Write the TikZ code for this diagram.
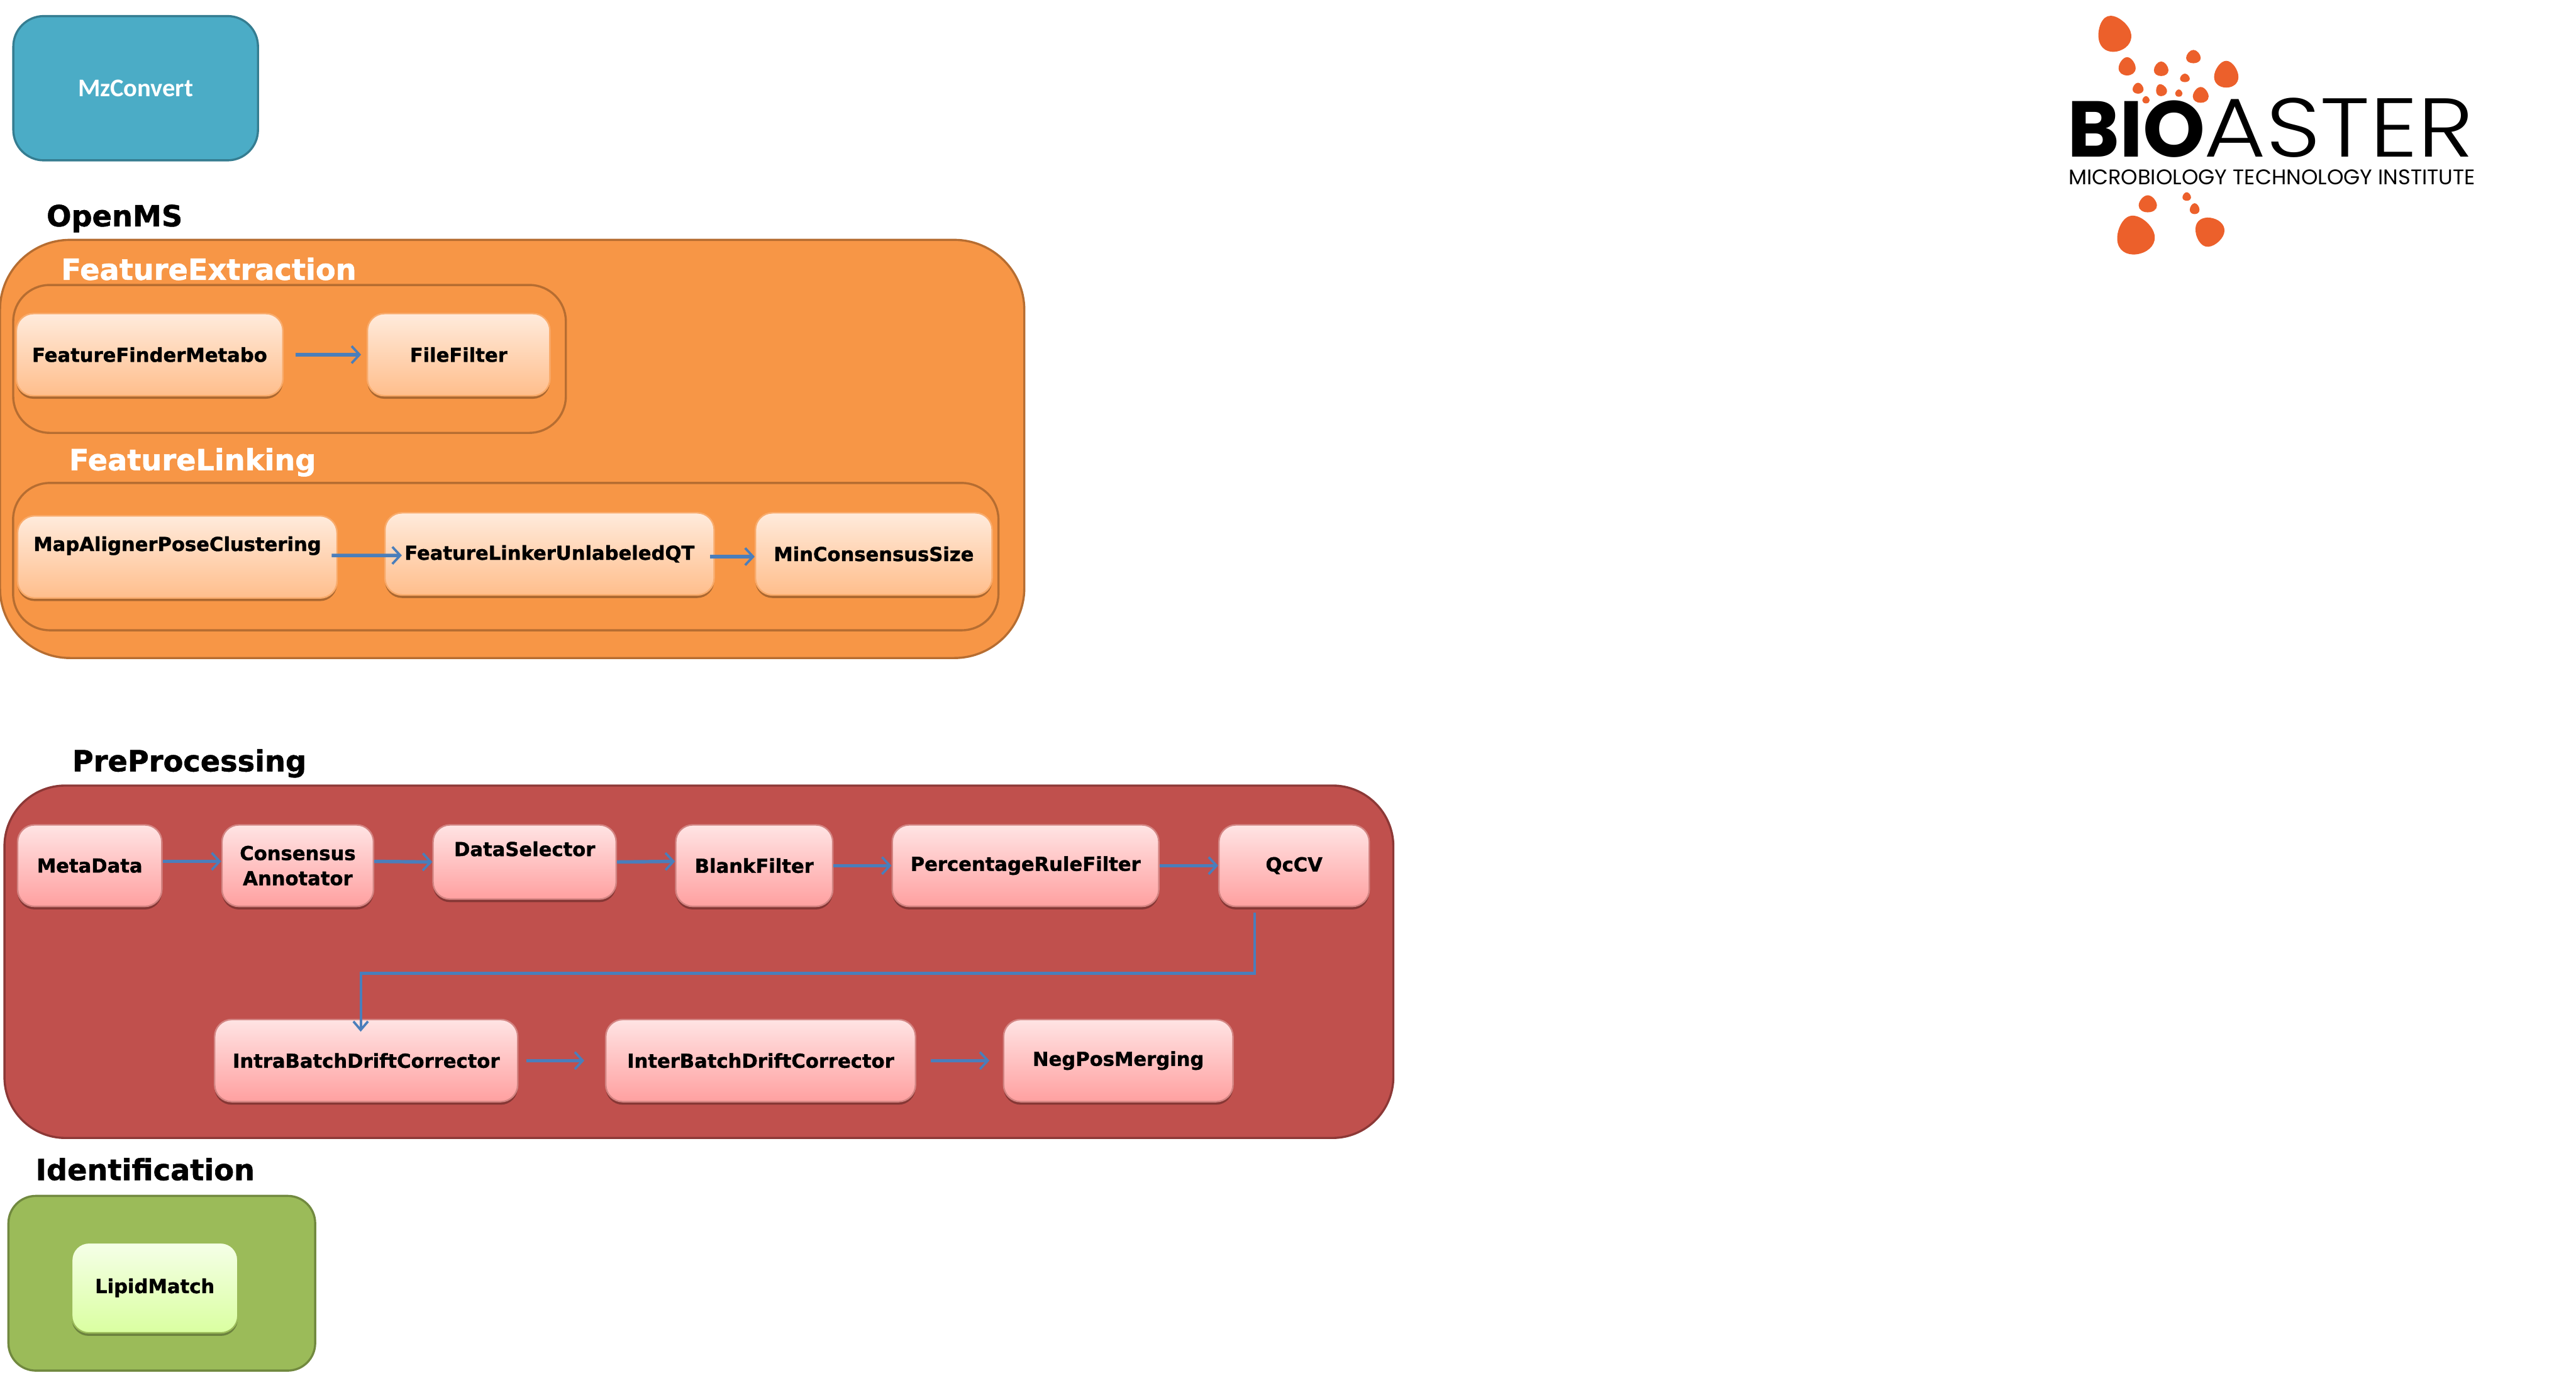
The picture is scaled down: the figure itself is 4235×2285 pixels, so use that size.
\documentclass[tikz,border=0pt]{standalone}
\usepackage{fontspec}
\usepackage{tikz}
\usetikzlibrary{arrows.meta, shadows}
\usepackage{xcolor}
\setmainfont{DejaVu Sans}
\newfontfamily\heavyfont[BoldFeatures={FakeBold=1.2}]{DejaVu Sans}
\newfontfamily\noticefont{Carlito}
\newfontfamily\logofont{Poppins}
\newfontfamily\logolight[FakeStretch=1.14]{Poppins Light}
\definecolor{toolBlue}{HTML}{4BACC6}
\definecolor{toolBlueEdge}{HTML}{357D91}
\definecolor{toolOrange}{HTML}{F79646}
\definecolor{toolOrangeEdge}{HTML}{B66D31}
\definecolor{toolRed}{HTML}{C0504D}
\definecolor{toolRedEdge}{HTML}{8C3836}
\definecolor{toolGreen}{HTML}{9BBB59}
\definecolor{toolGreenEdge}{HTML}{71893F}
\definecolor{flowBlue}{HTML}{4A7EBB}
\definecolor{logoOrange}{HTML}{EC602B}
\definecolor{orangeTop}{HTML}{FFEBDC}
\definecolor{orangeBottom}{HTML}{FFBE8C}
\definecolor{redTop}{HTML}{FFE4E4}
\definecolor{redBottom}{HTML}{FFA0A0}
\definecolor{greenTop}{HTML}{F5FFE8}
\definecolor{greenBottom}{HTML}{DAFFA0}
\tikzset{
    groupbox/.style={rectangle, rounded corners=#1, line width=1pt, inner sep=0pt},
    stepbox/.style 2 args={rectangle, rounded corners=0.28cm, line width=0.7pt, inner sep=0pt, align=center, font=\heavyfont\bfseries\fontsize{9}{11.7}\selectfont, fill=#1, path picture={\shade[top color=#1, bottom color=#2] (path picture bounding box.south west) rectangle (path picture bounding box.north east);}, drop shadow={shadow xshift=0pt, shadow yshift=-0.05cm, opacity=0.3, fill=black}},
    orangestep/.style={stepbox={orangeTop}{orangeBottom}, draw=toolOrange!80!white},
    redstep/.style={stepbox={redTop}{redBottom}, draw=toolRed!70!white},
    greenstep/.style={stepbox={greenTop}{greenBottom}, draw=toolGreen},
    grouptitle/.style={anchor=base west, inner sep=0pt, font=\heavyfont\bfseries\fontsize{13.6}{16}\selectfont},
    whitetitle/.style={grouptitle, text=white, font=\heavyfont\bfseries\fontsize{13.6}{16}\selectfont},
    flowarrow/.style={-{Straight Barb[length=0.13cm, width=0.28cm, line width=1.1pt]}, line width=1.6pt, draw=flowBlue},
    thinarrow/.style={-{Straight Barb[length=0.14cm, width=0.24cm, line width=1.1pt]}, line width=1.2pt, draw=flowBlue},
    logoblob/.style={fill=logoOrange, draw=none},
}

\begin{document}
\begin{tikzpicture}[x=0.01cm, y=-0.01cm]
    \useasboundingbox (0,0) rectangle (4235,2285);

    \node[groupbox=0.5cm, draw=toolBlueEdge, fill=toolBlue, minimum width=4.02cm, minimum height=2.37cm, text=white, font=\noticefont\bfseries\fontsize{11.9}{14}\selectfont] (mzconvert) at (223,145) {MzConvert};

    \node[grouptitle] (openmstitle) at (76,372) {OpenMS};
    \node[groupbox=1.15cm, draw=toolOrangeEdge, fill=toolOrange, minimum width=16.83cm, minimum height=6.87cm] (openms) at (842,738) {};
    \node[whitetitle] (extractiontitle) at (100,460) {FeatureExtraction};
    \node[groupbox=0.6cm, draw=toolOrangeEdge, fill=toolOrange, minimum width=9.08cm, minimum height=2.43cm] (extraction) at (476,590) {};
    \node[orangestep, minimum width=4.38cm, minimum height=1.35cm] (featurefinder) at (246,583) {FeatureFinderMetabo};
    \node[orangestep, minimum width=3cm, minimum height=1.35cm] (filefilter) at (754,583) {FileFilter};
    \node[whitetitle] (linkingtitle) at (113,773) {FeatureLinking};
    \node[groupbox=0.6cm, draw=toolOrangeEdge, fill=toolOrange, minimum width=16.19cm, minimum height=2.42cm] (linking) at (831.5,915) {};
    \node[orangestep, minimum width=5.25cm, minimum height=1.35cm] (mapaligner) at (291.5,915.5) {MapAlignerPoseClustering\\[-0.1cm]\strut};
    \node[orangestep, minimum width=5.41cm, minimum height=1.35cm] (featurelinker) at (903.5,910.5) {FeatureLinkerUnlabeledQT};
    \node[orangestep, minimum width=3.89cm, minimum height=1.35cm] (minconsensus) at (1436.5,910.5) {MinConsensusSize};

    \node[grouptitle] (preprocessingtitle) at (118,1268) {PreProcessing};
    \node[groupbox=1cm, draw=toolRedEdge, fill=toolRed, minimum width=22.82cm, minimum height=5.79cm] (preprocessing) at (1149,1581) {};
    \node[redstep, minimum width=2.37cm, minimum height=1.34cm] (metadata) at (147.5,1423) {MetaData};
    \node[redstep, minimum width=2.49cm, minimum height=1.34cm] (consensus) at (489.5,1423) {Consensus\\Annotator};
    \node[redstep, minimum width=3.01cm, minimum height=1.22cm] (dataselector) at (862.5,1417) {DataSelector\\[-0.1cm]\strut};
    \node[redstep, minimum width=2.58cm, minimum height=1.34cm] (blankfilter) at (1240,1423) {BlankFilter};
    \node[redstep, minimum width=4.38cm, minimum height=1.34cm] (percentage) at (1686,1423) {PercentageRuleFilter};
    \node[redstep, minimum width=2.47cm, minimum height=1.34cm] (qccv) at (2127.5,1423) {QcCV};
    \node[redstep, minimum width=4.98cm, minimum height=1.35cm] (intrabatch) at (602,1743.5) {IntraBatchDriftCorrector};
    \node[redstep, minimum width=5.09cm, minimum height=1.35cm] (interbatch) at (1250.5,1743.5) {InterBatchDriftCorrector};
    \node[redstep, minimum width=3.77cm, minimum height=1.35cm] (negpos) at (1838.5,1743.5) {NegPosMerging};

    \node[grouptitle] (identificationtitle) at (58,1940) {Identification};
    \node[groupbox=0.45cm, draw=toolGreenEdge, fill=toolGreen, minimum width=5.04cm, minimum height=2.87cm] (identification) at (266,2109.5) {};
    \node[greenstep, minimum width=2.73cm, minimum height=1.48cm] (lipidmatch) at (254.5,2117) {LipidMatch};

    \draw[flowarrow, shorten <=0.2cm, shorten >=0.09cm] (featurefinder) -- (filefilter);
    \draw[flowarrow, shorten <=-0.1cm, shorten >=-0.29cm] ([yshift=0.025cm]mapaligner.east) -- ([yshift=-0.025cm]featurelinker.west);
    \draw[flowarrow, shorten <=-0.08cm] ([yshift=-0.045cm]featurelinker.east) -- ([yshift=-0.045cm]minconsensus.west);
    \draw[flowarrow] ([yshift=0.07cm]metadata.east) -- ([yshift=0.07cm]consensus.west);
    \draw[flowarrow] ([yshift=0.07cm]consensus.east) -- (dataselector.west);
    \draw[flowarrow] (dataselector.east) -- ([yshift=0.07cm]blankfilter.west);
    \draw[flowarrow] (blankfilter) -- (percentage);
    \draw[flowarrow] (percentage) -- (qccv);
    \coordinate (qcout) at (2063,1500);
    \coordinate (driftbend) at (593,1600);
    \coordinate (intrain) at (593,1696);
    \draw[thinarrow] (qcout) |- (driftbend) -- (intrain);
    \draw[flowarrow, shorten <=0.13cm, shorten >=0.34cm] (intrabatch) -- (interbatch);
    \draw[flowarrow, shorten <=0.24cm, shorten >=0.22cm] (interbatch) -- (negpos);

    \foreach \blobx/\bloby/\blobrx/\blobry/\blobturn in {3475/55/27/30/20, 3497/109/14/15/0, 3553/113/12/12/0, 3606/93/12/11/0, 3660/122/20/22/0, 3592/128/8/7/0, 3515/145/9/9/0, 3553/148/9/10/20, 3582/153/6/6/0, 3618/156/13/13/0, 3528/164/6/6/0, 3531/335/15/14/0, 3595/323/7/7/0, 3608/343/8/9/0, 3510/386/31/32/15, 3632/382/24/24/165} {
        \fill[logoblob, shift={(\blobx,\bloby)}, rotate=\blobturn, xscale=\blobrx, yscale=\blobry] (0,-1) .. controls (0.5,-1) and (1,-0.3) .. (1,0.2) .. controls (1,0.7) and (0.55,1) .. (0,1) .. controls (-0.55,1) and (-1,0.7) .. (-1,0.2) .. controls (-1,-0.3) and (-0.5,-1) .. (0,-1);
    }
    \node[anchor=base west, inner sep=0pt, font=\logofont\bfseries\fontsize{37}{40}\selectfont] (logobio) at (3398,258) {BIO};
    \node[anchor=base west, inner sep=0pt, font=\logolight\fontsize{39}{40}\selectfont] (logoaster) at (3623,258) {ASTER};
    \node[anchor=base west, inner sep=0pt, font=\logofont\fontsize{9.9}{12}\selectfont] (logotag) at (3400,303) {MICROBIOLOGY TECHNOLOGY INSTITUTE};
\end{tikzpicture}
\end{document}
